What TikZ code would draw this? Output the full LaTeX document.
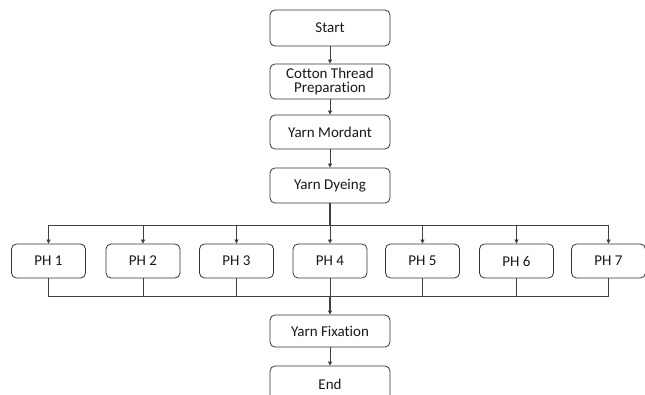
\documentclass[tikz,border=0pt]{standalone}
\usepackage{fontspec}
\setmainfont{Carlito}[Ligatures=CommonOff]
\usetikzlibrary{arrows.meta,calc}
\begin{document}
\begin{tikzpicture}[x=1pt,y=-1pt,
  box/.style={draw=black!80,line width=0.8pt,rounded corners=5pt,fill=white,
    minimum width=120pt,minimum height=34pt,inner sep=1pt,align=center,
    font=\fontsize{15}{16}\selectfont,text=black!90,anchor=center},
  phbox/.style={box,minimum width=74pt},
  conn/.style={draw=black!75,line width=0.8pt},
  arr/.style={conn,-{Triangle[length=4pt,width=4pt]}}]
\useasboundingbox (0,0) rectangle (645,395);
\clip (0,0) rectangle (645,395);
\node[box,minimum height=36pt] (start) at (330,28) {Start};
\node[box,minimum height=35pt] (cot) at (330,81.5) {Cotton Thread\\[-2pt]Preparation};
\node[box] (mor) at (330,132) {Yarn Mordant};
\node[box,minimum height=35pt] (dye) at (330,185.5) {Yarn Dyeing};
\node[phbox] (ph1) at (48.5,261) {PH 1};
\node[phbox] (ph2) at (143,261) {PH 2};
\node[phbox] (ph3) at (236.5,261) {PH 3};
\node[phbox] (ph4) at (330,261) {PH 4};
\node[phbox] (ph5) at (422.5,261) {PH 5};
\node[phbox] (ph6) at (516.5,261) {PH 6};
\node[phbox] (ph7) at (608.5,261) {PH 7};
\node[box,minimum height=32pt] (fix) at (330,331) {Yarn Fixation};
\node[box,minimum height=36pt] (end) at (330,384) {End};
\coordinate (bus) at (330,225);
\coordinate (bot) at (330,296);
\draw[arr] (start) -- (cot);
\draw[arr] (cot) -- (mor);
\draw[arr] (mor) -- (dye);
\draw[conn,line width=1.4pt] (dye.south) -- (bus);
\foreach \i in {1,...,7}{
  \draw[arr] (bus) -| (ph\i.north);
  \draw[conn] (ph\i.south) |- (bot);
}
\draw[arr,line width=1.4pt] (bot) -- (fix.north);
\draw[arr] (fix) -- (end);
\end{tikzpicture}
\end{document}
